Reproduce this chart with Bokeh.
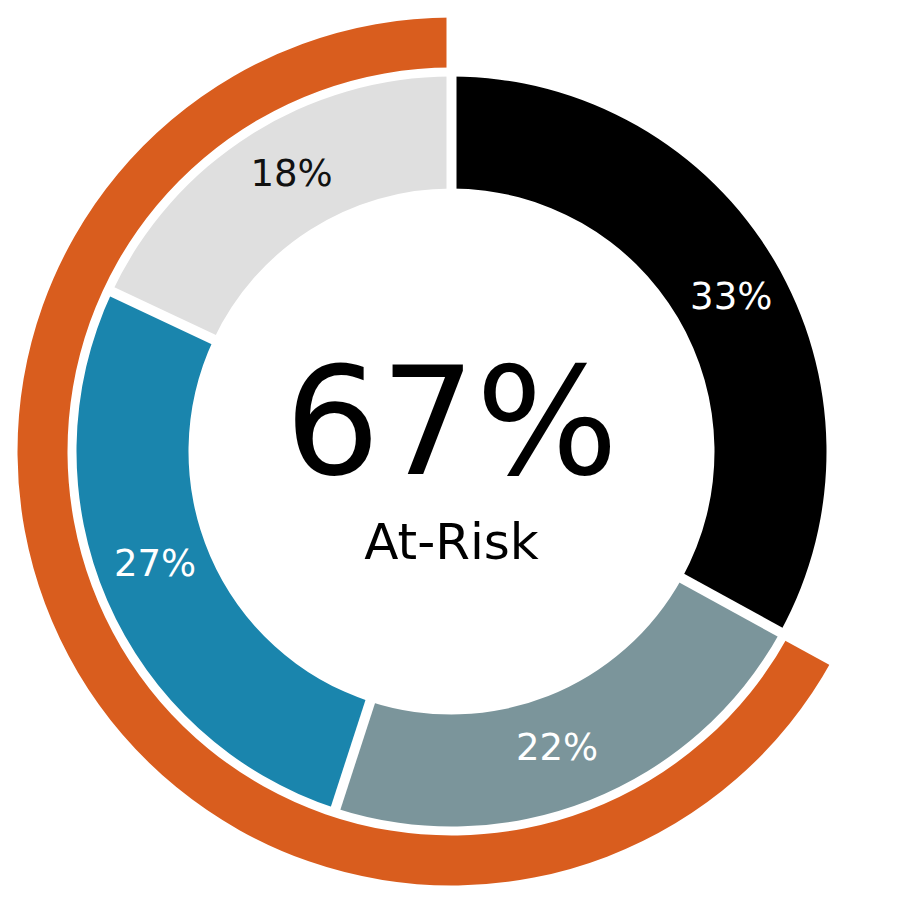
import math
from bokeh.plotting import figure
from bokeh.models import Range1d
from bokeh.core.properties import value
from bokeh.embed import file_html
from bokeh.resources import INLINE

# ---- data ----
categories = ["Segment A", "Segment B", "Segment C", "Segment D"]
shares = [33, 22, 27, 18]
colors = ["#000000", "#7B959B", "#1A85AD", "#DFDFDF"]
label_colors = ["#FFFFFF", "#FFFFFF", "#FFFFFF", "#111111"]
at_risk_share = 67          # outer orange ring (B + C + D)
at_risk_caption = "At-Risk"
at_risk_color = "#D95D1E"

# ---- geometry / style ----
W, H = 890, 886
CX, CY = 451, 451           # centre in page pixels
R_IN, R_OUT = 263, 375
O_IN, O_OUT = 384, 434
GAP = 10
FONT = value("DejaVu Sans")
BASE_FIX = 0.35             # baseline correction (fraction of font size)

p = figure(width=W, height=H, x_range=Range1d(-CX, W - CX), y_range=Range1d(-(H - CY), CY),
           output_backend="svg", toolbar_location=None, min_border=0)
p.axis.visible = False
p.grid.visible = False
p.outline_line_color = None

total = float(sum(shares))
cum = [0.0]
for s in shares:
    cum.append(cum[-1] + s)


def ang(frac):
    return math.pi / 2 - 2 * math.pi * frac


starts = [ang(c / total) for c in cum[:-1]]
ends = [ang(c / total) for c in cum[1:]]

# inner donut
p.annular_wedge(x=0, y=0, inner_radius=R_IN, outer_radius=R_OUT,
                start_angle=starts, end_angle=ends, direction="clock",
                fill_color=colors, line_color=None)

# outer at-risk ring (ends at 12 o'clock)
risk_start = 1 - at_risk_share / 100.0
p.annular_wedge(x=0, y=0, inner_radius=O_IN, outer_radius=O_OUT,
                start_angle=ang(risk_start), end_angle=ang(1.0), direction="clock",
                fill_color=at_risk_color, line_color=None)

# white gaps between slices
gx0, gy0, gx1, gy1 = [], [], [], []
for c in cum[:-1]:
    f = c / total
    a = ang(f)
    outer = O_OUT + 6 if (abs(f - risk_start) < 1e-6 or abs(f) < 1e-6) else R_OUT + 4
    gx0.append((R_IN - 5) * math.cos(a)); gy0.append((R_IN - 5) * math.sin(a))
    gx1.append(outer * math.cos(a)); gy1.append(outer * math.sin(a))
p.segment(x0=gx0, y0=gy0, x1=gx1, y1=gy1, line_color="white", line_width=GAP, line_cap="butt")

# slice labels
LABEL_R = 318
LABEL_SHIFT = math.radians(2.2)
LABEL_PX = 37
lx, ly, lt = [], [], []
for i, s in enumerate(shares):
    mid = (cum[i] + cum[i + 1]) / 2 / total
    a = ang(mid) - LABEL_SHIFT
    lx.append(LABEL_R * math.cos(a))
    ly.append(LABEL_R * math.sin(a) - 0.729 * LABEL_PX / 2 + BASE_FIX * LABEL_PX + 4)
    lt.append(f"{s}%")
p.text(x=lx, y=ly, text=lt, text_color=label_colors, text_font=FONT,
       text_font_size=f"{LABEL_PX}px", text_align="center", text_baseline="alphabetic")

# centre texts
BIG_PX, CAP_PX = 150, 50
p.text(x=[0], y=[-23 + BASE_FIX * BIG_PX], text=[f"{at_risk_share}%"], text_color="#000000",
       text_font=FONT, text_font_size=f"{BIG_PX}px", text_align="center", text_baseline="alphabetic")
p.text(x=[0], y=[-108 + BASE_FIX * CAP_PX], text=[at_risk_caption], text_color="#000000",
       text_font=FONT, text_font_size=f"{CAP_PX}px", text_align="center", text_baseline="alphabetic")

open("out.html", "w").write(file_html(p, INLINE))
